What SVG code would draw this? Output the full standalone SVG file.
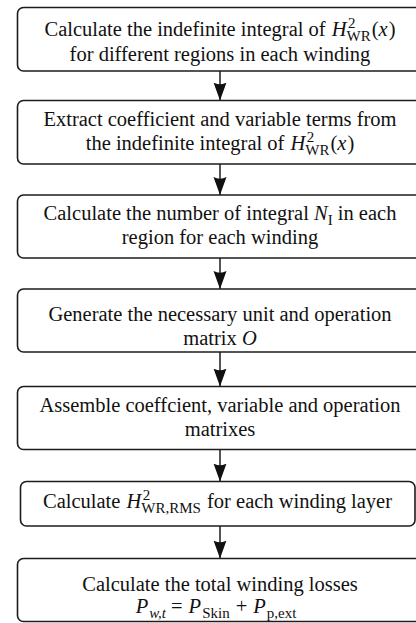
<svg xmlns="http://www.w3.org/2000/svg" width="416" height="623" viewBox="0 0 416 623">
  <style>
    .box { fill: #ffffff; stroke: #1c1c1c; stroke-width: 1.6; }
    .lbl { font-family: 'Liberation Serif', 'Times New Roman', 'DejaVu Serif', serif; font-size: 20.5px; fill: #111111; text-anchor: middle; }
    .mi { font-style: italic; }
    .sc { font-size: 15px; }
    .edge { stroke: #1c1c1c; stroke-width: 1.5; fill: none; marker-end: url(#ah); }
  </style>
  <defs>
    <marker id="ah" markerUnits="userSpaceOnUse" markerWidth="18" markerHeight="14" viewBox="0 -7 18 14" refX="18" refY="0" orient="auto">
      <path d="M0,-6.5 Q3.5,0 0,6.5 L18,0 Z" fill="#111111"/>
    </marker>
  </defs>
  <rect width="416" height="623" fill="#ffffff"/>

  <!-- connectors -->
  <g id="connectors">
    <line class="edge" x1="220" y1="71" x2="220" y2="100.5"/>
    <line class="edge" x1="220" y1="164" x2="220" y2="195"/>
    <line class="edge" x1="220" y1="258" x2="220" y2="289"/>
    <line class="edge" x1="220" y1="352" x2="220" y2="386.5"/>
    <line class="edge" x1="220" y1="449.5" x2="220" y2="481.5"/>
    <line class="edge" x1="220" y1="526" x2="220" y2="558.5"/>
  </g>

  <g id="step1">
    <rect class="box" x="17.5" y="7.5" width="405" height="63.5" rx="6"/>
    <text class="lbl" x="220" y="36">Calculate the indefinite integral of <tspan class="mi" dx="1">H</tspan><tspan class="sc" dx="1.5" dy="-8">2</tspan><tspan class="sc" dx="-9" dy="12.5">WR</tspan><tspan dy="-4.5" dx="1">(</tspan><tspan class="mi">x</tspan><tspan dx="1">)</tspan></text>
    <text class="lbl" x="220" y="60.5">for different regions in each winding</text>
  </g>

  <g id="step2">
    <rect class="box" x="17.5" y="100.5" width="405" height="63.5" rx="6"/>
    <text class="lbl" x="220" y="126">Extract coefficient and variable terms from</text>
    <text class="lbl" x="220" y="150">the indefinite integral of <tspan class="mi" dx="1">H</tspan><tspan class="sc" dx="1.5" dy="-8">2</tspan><tspan class="sc" dx="-9" dy="12.5">WR</tspan><tspan dy="-4.5" dx="1">(</tspan><tspan class="mi">x</tspan><tspan dx="1">)</tspan></text>
  </g>

  <g id="step3">
    <rect class="box" x="17.5" y="195" width="405" height="63" rx="6"/>
    <text class="lbl" x="220" y="220">Calculate the number of integral <tspan class="mi">N</tspan><tspan class="sc" dy="4.5">I</tspan><tspan dy="-4.5"> in each</tspan></text>
    <text class="lbl" x="220" y="244">region for each winding</text>
  </g>

  <g id="step4">
    <rect class="box" x="17.5" y="289" width="405" height="63" rx="6"/>
    <text class="lbl" x="220" y="321">Generate the necessary unit and operation</text>
    <text class="lbl" x="220" y="345">matrix <tspan class="mi">O</tspan></text>
  </g>

  <g id="step5">
    <rect class="box" x="17.5" y="386.5" width="405" height="63" rx="6"/>
    <text class="lbl" x="220" y="412">Assemble coeffcient, variable and operation</text>
    <text class="lbl" x="220" y="436">matrixes</text>
  </g>

  <g id="step6">
    <rect class="box" x="20.5" y="481.5" width="394.5" height="44.5" rx="6"/>
    <text class="lbl" x="217.5" y="508">Calculate <tspan class="mi" dx="1">H</tspan><tspan class="sc" dx="1.5" dy="-8">2</tspan><tspan class="sc" dx="-9" dy="12.5">WR,RMS</tspan><tspan dy="-4.5" dx="1"> for each winding layer</tspan></text>
  </g>

  <g id="step7">
    <rect class="box" x="17.5" y="558.5" width="405" height="63" rx="6"/>
    <text class="lbl" x="220" y="591">Calculate the total winding losses</text>
    <text class="lbl" x="216" y="613"><tspan class="mi">P</tspan><tspan class="sc mi" dy="4.5" dx="1">w,t</tspan><tspan dy="-4.5" dx="5">=</tspan><tspan class="mi" dx="6">P</tspan><tspan class="sc" dy="4.5" dx="1">Skin</tspan><tspan dy="-4.5" dx="6">+</tspan><tspan class="mi" dx="6">P</tspan><tspan class="sc" dy="4.5" dx="1">p,ext</tspan></text>
  </g>
</svg>
